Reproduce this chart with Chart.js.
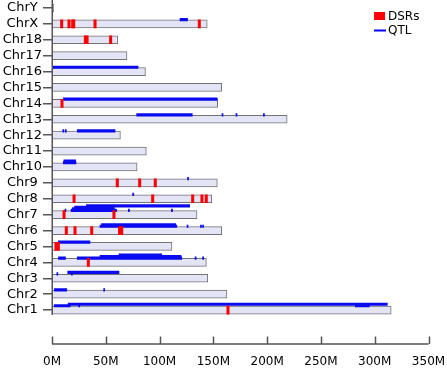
<!DOCTYPE html>
<html>
<head>
<meta charset="utf-8">
<script src="https://cdn.jsdelivr.net/npm/chart.js@4.4.1/dist/chart.umd.min.js"></script>
<style>
  html, body { margin: 0; padding: 0; background: #fff; }
  #wrap { width: 447px; height: 369px; }
</style>
</head>
<body>
<div id="wrap"><canvas id="myChart"></canvas></div>
<script>
// chromosomes, bottom to top
var chromosomes = ['Chr1','Chr2','Chr3','Chr4','Chr5','Chr6','Chr7','Chr8','Chr9','Chr10',
  'Chr11','Chr12','Chr13','Chr14','Chr15','Chr16','Chr17','Chr18','ChrX','ChrY'];
var chrLength = [315.3, 162.6, 144.8, 143.5, 111.5, 157.8, 134.8, 148.5, 153.7, 79.1,
  87.7, 63.6, 218.6, 154.0, 157.7, 86.9, 69.7, 61.2, 144.3, 1.6];

// DSRs (Mb)
var dsrChr = ['Chr1','Chr4','Chr5','Chr5','Chr6','Chr6','Chr6','Chr6','Chr6','Chr7','Chr7',
  'Chr8','Chr8','Chr8','Chr8','Chr8','Chr9','Chr9','Chr9','Chr14','Chr18','Chr18','Chr18',
  'ChrX','ChrX','ChrX','ChrX','ChrX','ChrX'];
var dsrPos = [163.6, 33.8, 3.7, 5.9, 13.3, 21.4, 36.9, 62.8, 64.8, 11.2, 57.6,
  20.5, 93.6, 130.8, 139.4, 143.4, 60.7, 81.5, 96.0, 9.3, 31.0, 32.6, 54.5,
  9.0, 15.8, 19.2, 20.2, 40.0, 136.9];

// QTL intervals (Mb)
var qtlChr = ['Chr1','Chr1','Chr1','Chr1','Chr2','Chr2','Chr3','Chr3','Chr3',
  'Chr4','Chr4','Chr4','Chr4','Chr4','Chr4','Chr5',
  'Chr6','Chr6','Chr6','Chr6','Chr6',
  'Chr7','Chr7','Chr7','Chr7','Chr7','Chr7','Chr7',
  'Chr8','Chr9','Chr10','Chr10','Chr12','Chr12','Chr12',
  'Chr13','Chr13','Chr13','Chr13','Chr14','Chr16','ChrX'];
var qtlStart = [2, 15, 24.8, 282, 2.2, 48, 4.5, 18, 14.6,
  6, 23.5, 44.6, 62.3, 133, 140, 5.9,
  44.6, 46, 125.5, 138, 140,
  12, 17.7, 19, 21, 32, 71, 111,
  75, 126, 10.5, 11, 10, 12.3, 23.5,
  78.7, 158, 171, 196.5, 10.5, 0, 119];
var qtlEnd = [17, 311.7, 25.8, 295, 13.7, 49, 5.5, 19, 62.3,
  12.5, 120.6, 120, 102, 134, 141, 35.3,
  116, 115, 126.5, 139, 141,
  13, 60, 58, 57, 128, 72, 112,
  76, 127, 22.3, 22, 11, 13.3, 58.6,
  130.4, 159, 172, 197.5, 153.6, 80, 126];

var xTicks = [0, 50, 100, 150, 200, 250, 300, 350];

var UNIT = 15.9; // px per chromosome row
function chrIndex(name) { return chromosomes.indexOf(name) + 1; }

// stack overlapping QTLs in rows
var rows = {};
var qtlData = qtlChr.map(function (c, i) {
  var s = qtlStart[i], e = qtlEnd[i];
  rows[c] = rows[c] || [];
  var r = 0;
  while (rows[c][r] && rows[c][r].some(function (iv) { return s < iv[1] && iv[0] < e; })) r++;
  rows[c][r] = rows[c][r] || [];
  rows[c][r].push([s, e]);
  return { x: [s, e], y: chrIndex(c) + (4.3 + r * 1.5) / UNIT };
});

var chrData = chromosomes.map(function (c, i) { return { x: [0, chrLength[i]], y: i + 1 }; });
var dsrData = dsrChr.map(function (c, i) { return { x: [dsrPos[i] - 1.1, dsrPos[i] + 1.1], y: chrIndex(c) }; });

var axisColor = '#555555';

var customAxis = {
  id: 'customAxis',
  afterDraw: function (chart) {
    var c = chart.ctx, xs = chart.scales.x, ys = chart.scales.y, a = chart.chartArea;
    var yLine = Math.round(a.bottom) + 26;
    c.save();
    c.strokeStyle = axisColor;
    c.lineWidth = 1.5;
    c.beginPath();
    // x axis: line with upward ticks
    c.moveTo(xs.getPixelForValue(0), yLine);
    c.lineTo(xs.getPixelForValue(350), yLine);
    xTicks.forEach(function (t) {
      var px = Math.round(xs.getPixelForValue(t)) + 0.5;
      c.moveTo(px, yLine);
      c.lineTo(px, yLine - 7.5);
    });
    // y axis line
    var yx = Math.round(a.left) + 0.25;
    c.moveTo(yx, 0);
    c.lineTo(yx, ys.getPixelForValue(1) + 5);
    c.stroke();
    // legend
    var lx = 374, ly = 12;
    c.fillStyle = '#ff0000';
    c.fillRect(lx, ly, 11, 8);
    c.fillStyle = '#0000ff';
    c.fillRect(lx, ly + 17.5, 12, 2);
    c.fillStyle = '#000';
    c.font = '12px "DejaVu Sans"';
    c.textBaseline = 'middle';
    c.fillText(chart.data.datasets[0].label, lx + 14, ly + 4.5);
    c.fillText(chart.data.datasets[1].label, lx + 14, ly + 19);
    c.restore();
  }
};

var ctx = document.getElementById('myChart').getContext('2d');
var myChart = new Chart(ctx, {
  type: 'bar',
  data: {
    datasets: [{
      label: 'DSRs',
      data: dsrData,
      backgroundColor: '#ff0000',
      borderWidth: 0,
      barThickness: 8,
      stack: 'all',
      order: 0
    }, {
      label: 'QTL',
      data: qtlData,
      backgroundColor: '#0a0af0',
      borderWidth: 0,
      barThickness: 2.5,
      stack: 'all',
      order: 1
    }, {
      label: 'Chromosome',
      data: chrData,
      backgroundColor: '#e4e4f7',
      borderColor: '#737373',
      borderWidth: 1,
      borderSkipped: false,
      barThickness: 8,
      stack: 'all',
      order: 2
    }]
  },
  options: {
    indexAxis: 'y',
    responsive: true,
    maintainAspectRatio: false,
    animation: false,
    layout: { padding: { left: 0, right: 18.5, top: 0, bottom: 0 } },
    plugins: {
      legend: { display: false },
      tooltip: { enabled: false }
    },
    scales: {
      x: {
        type: 'linear',
        min: 0,
        max: 350,
        offset: false,
        stacked: false,
        afterBuildTicks: function (s) { s.ticks = xTicks.map(function (v) { return { value: v }; }); },
        afterFit: function (s) { s.height = 51; s.paddingLeft = 0; s.paddingRight = 0; },
        ticks: {
          callback: function (v) { return v + 'M'; },
          color: '#000',
          font: { family: 'DejaVu Sans', size: 12 },
          padding: 3,
          maxRotation: 0,
          autoSkip: false
        },
        grid: { display: false, drawTicks: true, tickLength: 34, offset: false },
        border: { display: false }
      },
      y: {
        type: 'linear',
        min: 0.5,
        max: 20.5,
        offset: false,
        afterBuildTicks: function (s) { s.ticks = chromosomes.map(function (c, i) { return { value: i + 1 }; }); },
        afterFit: function (s) { s.width = 52; s.paddingTop = 0; s.paddingBottom = 0; },
        ticks: {
          callback: function (v) { return chromosomes[v - 1]; },
          color: '#000',
          font: { family: 'DejaVu Sans', size: 13 },
          crossAlign: 'center',
          padding: 1,
          autoSkip: false
        },
        grid: { drawOnChartArea: false, drawTicks: true, tickLength: 9, offset: false, color: axisColor, lineWidth: 1.5 },
        border: { display: false }
      }
    }
  },
  plugins: [customAxis]
});
</script>
</body>
</html>
